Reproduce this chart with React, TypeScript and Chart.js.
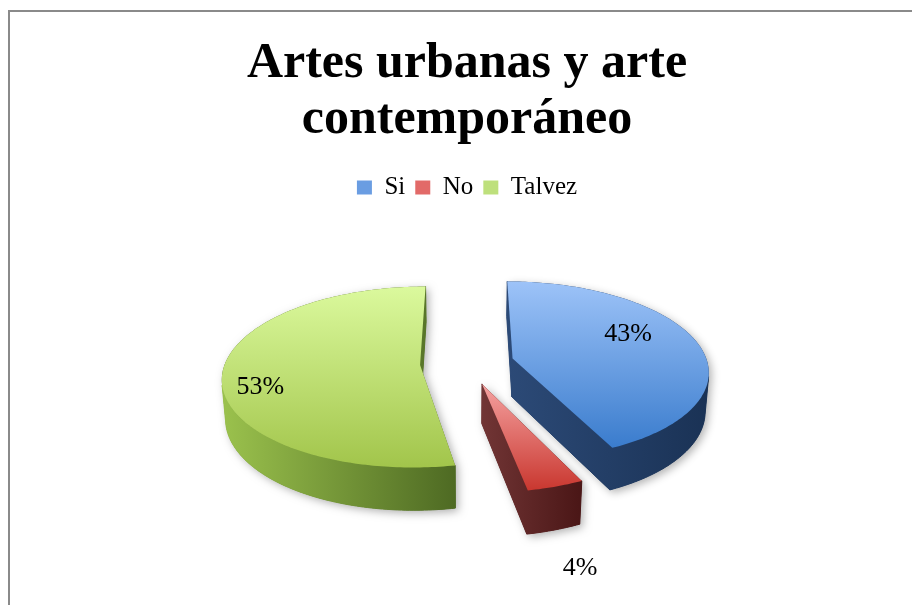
import { useEffect, useRef } from 'react';
import { Chart, registerables } from 'chart.js';

Chart.register(...registerables);

// ---- data ----
const categories = ['Si', 'No', 'Talvez'];
const values = [43, 4, 53];
const titleLines = ['Artes urbanas y arte', 'contemporáneo'];

// ---- styles ----
const legendColors = ['#6a9de2', '#e26a68', '#bee07c'];
const topLight = ['#9dc3f8', '#f5a2a1', '#dbf99d'];
const topDark = ['#3a7ccd', '#c9372f', '#a2c54b'];
const wallLight = ['#2c4a77', '#713535', '#9bc24d'];
const wallDark = ['#1a3255', '#4a1616', '#4e6a23'];
// label placement: fraction of radius per category (>1 = outside, below the slice)
const labelRadius = [0.69, 1.3, 0.82];
const LABEL_ROT = (-12 * Math.PI) / 180;

const TILT_SIN = 0.453;
const TILT_COS = Math.sqrt(1 - TILT_SIN * TILT_SIN);
const DIST = 1313;
const DEPTH = 44;
const EXPLODE = 47;
const RADIUS = 195;
const SERIF = "'Liberation Serif', 'DejaVu Serif', serif";

function project(cx: number, cy: number, X: number, Y: number, Z: number) {
  const zc = Y * TILT_COS + Z * TILT_SIN;
  const yu = -Y * TILT_SIN + Z * TILT_COS;
  const s = DIST / (DIST - zc);
  return [cx + X * s, cy - yu * s, zc];
}

function tracePoly(ctx: CanvasRenderingContext2D, pts: number[][]) {
  pts.forEach((p, k) => (k === 0 ? ctx.moveTo(p[0], p[1]) : ctx.lineTo(p[0], p[1])));
  ctx.closePath();
}

function fillPoly(ctx: CanvasRenderingContext2D, pts: number[][], fill: any, stroke: boolean) {
  ctx.beginPath();
  tracePoly(ctx, pts);
  ctx.fillStyle = fill;
  ctx.fill();
  if (stroke) {
    ctx.strokeStyle = fill;
    ctx.lineWidth = 1;
    ctx.stroke();
  }
}

function drawSlice(ctx: CanvasRenderingContext2D, s: any) {
  const { x: cx, y: cy, startAngle: a0, endAngle: a1, outerRadius: R, ox, oy, i } = s;
  const camY = DIST * TILT_COS;
  const steps = Math.max(6, Math.ceil((a1 - a0) / (Math.PI / 180)));
  const angles: number[] = [];
  for (let k = 0; k <= steps; k++) angles.push(a0 + ((a1 - a0) * k) / steps);
  const rimPt = (a: number, Z: number) => project(cx, cy, ox + R * Math.cos(a), oy + R * Math.sin(a), Z);
  const topRim = angles.map((a) => rimPt(a, 0));
  const botRim = angles.map((a) => rimPt(a, -DEPTH));
  const apexT = project(cx, cy, ox, oy, 0);
  const apexB = project(cx, cy, ox, oy, -DEPTH);
  const topPoly = [apexT, ...topRim];
  const xs = topPoly.map((p) => p[0]);
  const ys = topPoly.map((p) => p[1]);
  const minX = Math.min(...xs), maxX = Math.max(...xs);
  const minY = Math.min(...ys), maxY = Math.max(...ys);
  const faces: { pts: number[][]; depth: number }[] = [];
  const avgDepth = (pts: number[][]) => pts.reduce((t, p) => t + p[2], 0) / pts.length;

  let run: number[] = [];
  const flush = () => {
    if (run.length > 1) {
      const pts = [...run.map((k) => topRim[k]), ...run.slice().reverse().map((k) => botRim[k])];
      faces.push({ pts, depth: avgDepth(pts) });
    }
    run = [];
  };
  angles.forEach((a, k) => {
    const X = ox + R * Math.cos(a);
    const Y = oy + R * Math.sin(a);
    const dot = -X * Math.cos(a) + (camY - Y) * Math.sin(a);
    if (dot > 0) run.push(k);
    else flush();
  });
  flush();

  const radial = (a: number, nx: number, ny: number) => {
    const mx = ox + (R / 2) * Math.cos(a);
    const my = oy + (R / 2) * Math.sin(a);
    if (nx * -mx + ny * (camY - my) > 0) {
      const pts = [apexT, rimPt(a, 0), rimPt(a, -DEPTH), apexB];
      faces.push({ pts, depth: avgDepth(pts) });
    }
  };
  radial(a0, Math.sin(a0), -Math.cos(a0));
  radial(a1, -Math.sin(a1), Math.cos(a1));
  faces.sort((f, g) => f.depth - g.depth);

  // soft drop shadow of the whole slice silhouette
  ctx.save();
  ctx.shadowColor = 'rgba(0,0,0,0.30)';
  ctx.shadowBlur = 8;
  ctx.shadowOffsetX = 3;
  ctx.shadowOffsetY = 3;
  ctx.beginPath();
  faces.forEach((f) => tracePoly(ctx, f.pts));
  tracePoly(ctx, topPoly);
  ctx.fillStyle = wallDark[i];
  ctx.fill('nonzero');
  ctx.restore();

  const wallGrad = ctx.createLinearGradient(minX, 0, maxX, 0);
  wallGrad.addColorStop(0, wallLight[i]);
  wallGrad.addColorStop(1, wallDark[i]);
  faces.forEach((f) => fillPoly(ctx, f.pts, wallGrad, true));

  const topGrad = ctx.createLinearGradient(0, minY, 0, maxY);
  topGrad.addColorStop(0, topLight[i]);
  topGrad.addColorStop(1, topDark[i]);
  fillPoly(ctx, topPoly, topGrad, false);
}

const framePlugin = {
  id: 'frame',
  beforeDraw(chart: any) {
    const ctx = chart.ctx;
    ctx.save();
    ctx.fillStyle = '#ffffff';
    ctx.fillRect(0, 0, chart.width, chart.height);
    ctx.fillStyle = '#8a8a8a';
    ctx.fillRect(8, 10, chart.width - 8, 2);
    ctx.fillRect(8, 10, 2, chart.height - 10);
    ctx.restore();
  },
};

const pie3dPlugin = {
  id: 'pie3d',
  beforeDatasetsDraw(chart: any) {
    const ctx: CanvasRenderingContext2D = chart.ctx;
    const meta = chart.getDatasetMeta(0);
    const data = chart.data.datasets[0].data as number[];
    const total = data.reduce((a, b) => a + b, 0);
    const slices = meta.data.map((arc: any, i: number) => {
      const p = arc.getProps(['x', 'y', 'startAngle', 'endAngle', 'outerRadius'], true);
      const off = arc.options.offset || 0;
      const mid = (p.startAngle + p.endAngle) / 2;
      return { i, ...p, mid, ox: Math.cos(mid) * off, oy: Math.sin(mid) * off };
    });
    ctx.save();
    slices
      .slice()
      .sort((a: any, b: any) => a.oy - b.oy)
      .forEach((s: any) => drawSlice(ctx, s));

    ctx.fillStyle = '#000000';
    ctx.font = `26px ${SERIF}`;
    ctx.textAlign = 'center';
    ctx.textBaseline = 'middle';
    slices.forEach((s: any) => {
      const f = labelRadius[s.i];
      const outside = f > 1;
      const ang = outside ? s.mid : s.mid + LABEL_ROT;
      const r = s.outerRadius * f;
      const Z = outside ? -DEPTH : 0;
      const pt = project(s.x, s.y, s.ox + r * Math.cos(ang), s.oy + r * Math.sin(ang), Z);
      const pct = Math.round((data[s.i] / total) * 100) + '%';
      ctx.fillText(pct, pt[0], pt[1]);
    });
    ctx.restore();
    return false;
  },
};

export default function App() {
  const ref = useRef<HTMLCanvasElement>(null);
  useEffect(() => {
    const chart = new Chart(ref.current as HTMLCanvasElement, {
      type: 'pie',
      data: {
        labels: categories,
        datasets: [
          {
            data: values,
            backgroundColor: legendColors,
            borderWidth: 0,
            offset: EXPLODE,
            radius: RADIUS,
          } as any,
        ],
      },
      options: {
        responsive: false,
        animation: false,
        events: [],
        layout: { padding: { top: 12, left: 22, right: 0, bottom: 89 } },
        plugins: {
          title: {
            display: true,
            text: titleLines,
            color: '#000000',
            font: { family: SERIF, size: 50, weight: 'bold', lineHeight: 1.12 },
            padding: { top: 24, bottom: 17 },
          },
          legend: {
            position: 'top',
            labels: {
              boxWidth: 15,
              boxHeight: 14,
              padding: 10,
              color: '#000000',
              font: { family: SERIF, size: 25 },
            },
          },
          tooltip: { enabled: false },
        },
      } as any,
      plugins: [framePlugin, pie3dPlugin],
    });
    return () => chart.destroy();
  }, []);
  return (
    <canvas
      ref={ref}
      width={912}
      height={605}
      style={{ position: 'fixed', left: 0, top: 0, width: 912, height: 605 }}
    />
  );
}
